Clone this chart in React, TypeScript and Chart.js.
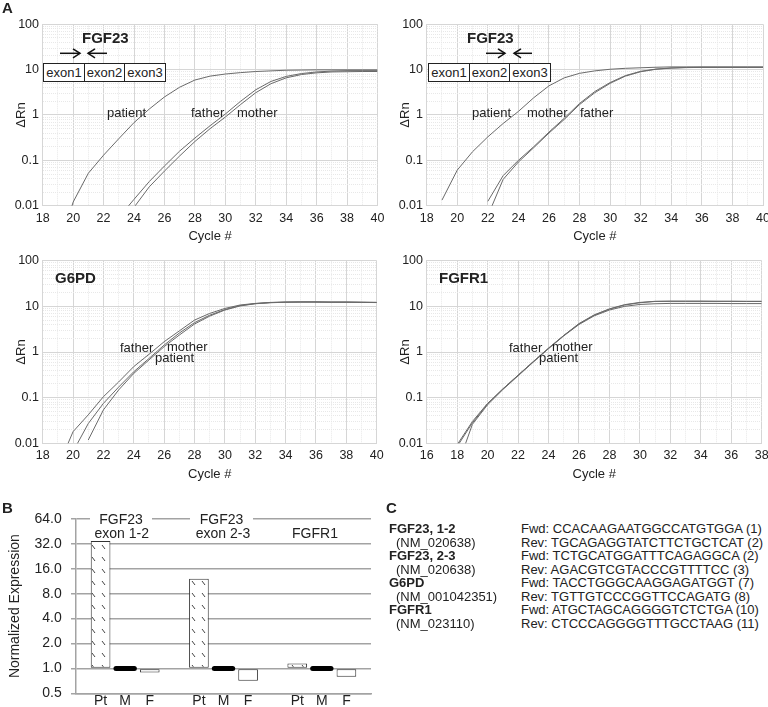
import React, { useEffect, useRef } from 'react';
import { Chart, registerables } from 'chart.js';

Chart.register(...registerables);

const FONT = '"Liberation Sans", Arial, Helvetica, sans-serif';
const TXT = '#222';
const LINE = '#6a6a6a';
const GRID_MAJ = '#d6d6d6';
const GRID_MIN = '#e8e8e8';
const GRID_B = '#a3a3a3';

// ---------- Panel A data (ΔRn per cycle) ----------
const cycles18to40 = [18, 19, 20, 21, 22, 23, 24, 25, 26, 27, 28, 29, 30, 31, 32, 33, 34, 35, 36, 37, 38, 39, 40];
const cycles16to38 = [16, 17, 18, 19, 20, 21, 22, 23, 24, 25, 26, 27, 28, 29, 30, 31, 32, 33, 34, 35, 36, 37, 38];

// FGF23 exon 1-2
const a1Patient = [null, 0.001, 0.012, 0.052, 0.13, 0.3, 0.68, 1.35, 2.5, 4.1, 5.9, 7.2, 8.0, 8.6, 9.1, 9.4, 9.7, 9.8, 9.9, 9.9, 9.9, 9.9, 9.9];
const a1Father = [null, null, null, null, null, 0.0055, 0.0138, 0.034, 0.075, 0.16, 0.31, 0.58, 1.05, 2.0, 3.6, 5.5, 7.1, 8.2, 8.9, 9.3, 9.5, 9.5, 9.5];
const a1Mother = [null, null, null, null, null, 0.002, 0.0092, 0.026, 0.058, 0.125, 0.26, 0.5, 0.9, 1.7, 3.1, 4.9, 6.6, 7.8, 8.5, 8.9, 9.0, 9.1, 9.1];

// FGF23 exon 2-3
const a2Patient = [null, 0.0133, 0.061, 0.155, 0.33, 0.65, 1.2, 2.4, 4.4, 6.6, 8.3, 9.4, 10.2, 10.7, 11.0, 11.3, 11.5, 11.5, 11.5, 11.5, 11.5, 11.5, 11.5];
const a2Mother = [null, null, null, null, 0.0125, 0.046, 0.1, 0.2, 0.42, 0.85, 1.8, 3.3, 5.2, 7.4, 9.2, 10.3, 10.9, 11.2, 11.3, 11.3, 11.3, 11.3, 11.3];
const a2Father = [null, null, null, null, 0.006, 0.038, 0.092, 0.19, 0.4, 0.8, 1.7, 3.1, 5.0, 7.2, 9.0, 10.2, 10.8, 11.1, 11.2, 11.2, 11.2, 11.2, 11.2];

// G6PD
const a3Father = [null, 0.003, 0.018, 0.042, 0.105, 0.22, 0.48, 0.89, 1.68, 2.9, 5.0, 7.0, 9.0, 10.7, 11.6, 12.2, 12.4, 12.5, 12.5, 12.4, 12.4, 12.3, 12.2];
const a3Mother = [null, null, 0.0066, 0.027, 0.075, 0.17, 0.37, 0.72, 1.42, 2.6, 4.4, 6.4, 8.5, 10.4, 11.5, 12.1, 12.4, 12.5, 12.5, 12.4, 12.4, 12.3, 12.2];
const a3Patient = [null, null, null, 0.0118, 0.054, 0.147, 0.34, 0.67, 1.31, 2.35, 4.1, 6.1, 8.3, 10.2, 11.4, 12.0, 12.3, 12.4, 12.4, 12.3, 12.3, 12.2, 12.1];

// FGFR1
const a4Father = [null, null, 0.0093, 0.03, 0.075, 0.155, 0.31, 0.61, 1.2, 2.3, 4.1, 6.4, 8.7, 10.7, 12.0, 12.8, 12.9, 12.9, 12.9, 12.9, 12.9, 12.8, 12.8];
const a4Mother = [null, null, 0.0085, 0.028, 0.073, 0.155, 0.31, 0.62, 1.22, 2.3, 4.2, 6.5, 8.8, 10.9, 12.2, 12.9, 13.0, 13.0, 13.0, 12.9, 12.9, 12.9, 12.9];
const a4Patient = [null, null, 0.003, 0.026, 0.07, 0.15, 0.3, 0.6, 1.18, 2.25, 4.0, 6.2, 8.3, 10.0, 11.0, 11.4, 11.6, 11.6, 11.6, 11.6, 11.5, 11.5, 11.5];

const logTickLabels = [0.01, 0.1, 1, 10, 100];

// ---------- Panel B data ----------
const bGroups = ['FGF23 exon 1-2', 'FGF23 exon 2-3', 'FGFR1'];
const bSamples = ['Pt', 'M', 'F'];
const bPatient = [34.6, 12.1, 1.15];
const bMother = [1.0, 1.0, 1.0];
const bFather = [0.89, 0.71, 0.79];
const bTicks = [0.5, 1, 2, 4, 8, 16, 32, 64];

// ---------- Panel C ----------
const primerGenes = ['FGF23, 1-2', '(NM_020638)', 'FGF23, 2-3', '(NM_020638)', 'G6PD', '(NM_001042351)', 'FGFR1', '(NM_023110)'];
const primerSeqs = [
  'Fwd: CCACAAGAATGGCCATGTGGA (1)',
  'Rev: TGCAGAGGTATCTTCTGCTCAT (2)',
  'Fwd: TCTGCATGGATTTCAGAGGCA (2)',
  'Rev: AGACGTCGTACCCGTTTTCC (3)',
  'Fwd: TACCTGGGCAAGGAGATGGT (7)',
  'Rev: TGTTGTCCCGGTTCCAGATG (8)',
  'Fwd: ATGCTAGCAGGGGTCTCTGA (10)',
  'Rev: CTCCCAGGGGTTTGCCTAAG (11)',
];

type Plot = { L: number; R: number; T: number; B: number };

function logMinorTicks(minExp: number, maxExp: number) {
  const out: number[] = [];
  for (let e = minExp; e < maxExp; e++) {
    for (let m = 1; m <= 9; m++) out.push(parseFloat((m * Math.pow(10, e)).toPrecision(3)));
  }
  out.push(parseFloat(Math.pow(10, maxExp).toPrecision(3)));
  return out;
}

function ampConfig(cycles: number[], series: (number | null)[][], xMin: number, xMax: number, p: Plot, W: number, H: number): any {
  const AXH = 40;
  const isMajorX = (v: number) => Math.abs((v - xMin) % 2) < 1e-6;
  const isMajorY = (v: number) => logTickLabels.includes(v);
  return {
    type: 'line',
    data: {
      datasets: series.map((s) => ({
        data: cycles.map((c, i) => ({ x: c, y: s[i] })),
        borderColor: LINE,
        borderWidth: 1,
        pointRadius: 0,
        tension: 0,
        fill: false,
      })),
    },
    options: {
      animation: false,
      responsive: false,
      events: [],
      layout: { padding: { left: 0, top: p.T, right: W - p.R, bottom: H - p.B - AXH } },
      plugins: { legend: { display: false }, tooltip: { enabled: false } },
      scales: {
        x: {
          type: 'linear',
          min: xMin,
          max: xMax,
          afterBuildTicks: (s: any) => {
            const t = [];
            for (let v = xMin; v <= xMax + 1e-9; v += 1) t.push({ value: v });
            s.ticks = t;
          },
          afterFit: (s: any) => {
            s.height = AXH;
            s.paddingLeft = 0;
            s.paddingRight = 0;
          },
          ticks: {
            autoSkip: false,
            maxRotation: 0,
            padding: 5.1,
            color: TXT,
            font: { family: FONT, size: 12.5 },
            callback: (v: any) => (isMajorX(Number(v)) ? String(v) : ''),
          },
          grid: {
            drawTicks: false,
            lineWidth: 1,
            color: (ctx: any) => (ctx.tick && !isMajorX(ctx.tick.value) ? GRID_MIN : GRID_MAJ),
          },
          border: {
            color: GRID_MAJ,
            dash: (ctx: any) => (ctx.tick && !isMajorX(ctx.tick.value) ? [1, 1] : []),
          },
          title: { display: true, text: 'Cycle #', color: TXT, font: { family: FONT, size: 13 }, padding: { top: 0, bottom: 1.2 } },
        },
        y: {
          type: 'logarithmic',
          min: 0.01,
          max: 100,
          afterBuildTicks: (s: any) => {
            s.ticks = logMinorTicks(-2, 2).map((v) => ({ value: v, major: isMajorY(v) }));
          },
          afterFit: (s: any) => {
            s.width = p.L;
            s.paddingTop = 0;
            s.paddingBottom = 0;
          },
          ticks: {
            autoSkip: false,
            padding: 3.7,
            color: TXT,
            font: { family: FONT, size: 12.5 },
            callback: (v: any) => (isMajorY(Number(v)) ? String(v) : ''),
          },
          grid: {
            drawTicks: false,
            lineWidth: 1,
            color: (ctx: any) => (ctx.tick && !isMajorY(ctx.tick.value) ? GRID_MIN : GRID_MAJ),
          },
          border: {
            color: GRID_MAJ,
            dash: (ctx: any) => (ctx.tick && !isMajorY(ctx.tick.value) ? [1, 1] : []),
          },
          title: { display: true, text: 'ΔRn', color: TXT, font: { family: FONT, size: 13 }, padding: { top: 13.7, bottom: 0 } },
        },
      },
    },
  };
}

function makeHatch(): any {
  const c = document.createElement('canvas');
  c.width = 10;
  c.height = 12;
  const g = c.getContext('2d') as CanvasRenderingContext2D;
  g.fillStyle = '#ffffff';
  g.fillRect(0, 0, 10, 12);
  g.strokeStyle = '#444';
  g.lineWidth = 1;
  g.beginPath();
  g.moveTo(2, 3);
  g.lineTo(5, 7);
  g.stroke();
  return g.createPattern(c, 'repeat');
}

function barConfig(W: number, H: number, p: Plot): any {
  const n = bGroups.length * 4 + 1;
  const labels: string[] = [];
  for (let i = 0; i < n; i++) labels.push(i % 4 === 0 ? '' : bSamples[(i % 4) - 1]);
  const place = (vals: number[], k: number) => {
    const arr: (number | null)[] = new Array(n).fill(null);
    vals.forEach((v, g) => (arr[1 + g * 4 + k] = v));
    return arr;
  };
  const AXH = H - p.B;
  return {
    type: 'bar',
    data: {
      labels,
      datasets: [
        { data: place(bPatient, 0), backgroundColor: makeHatch(), borderColor: '#333', borderWidth: 1, borderSkipped: false, base: 1, grouped: false, barPercentage: 0.8, categoryPercentage: 1 },
        { data: place(bMother, 1), backgroundColor: '#000', borderWidth: 0, borderRadius: 2.5, borderSkipped: false, base: 1, minBarLength: 5, grouped: false, barPercentage: 0.95, categoryPercentage: 1 },
        { data: place(bFather, 2), backgroundColor: '#fff', borderColor: '#333', borderWidth: 1, borderSkipped: false, base: 1, grouped: false, barPercentage: 0.8, categoryPercentage: 1 },
      ],
    },
    options: {
      animation: false,
      responsive: false,
      events: [],
      layout: { padding: { left: 0, top: p.T, right: W - p.R, bottom: 0 } },
      plugins: { legend: { display: false }, tooltip: { enabled: false } },
      scales: {
        x: {
          type: 'category',
          offset: false,
          grid: { display: false, drawTicks: false },
          border: { display: true, color: GRID_B, width: 1.5 },
          afterFit: (s: any) => {
            s.height = AXH;
            s.paddingLeft = 0;
            s.paddingRight = 0;
          },
          ticks: { autoSkip: false, maxRotation: 0, padding: -1, color: TXT, font: { family: FONT, size: 14 } },
        },
        y: {
          type: 'logarithmic',
          min: 0.5,
          max: 64,
          afterBuildTicks: (s: any) => {
            s.ticks = bTicks.map((v) => ({ value: v }));
          },
          afterFit: (s: any) => {
            s.width = p.L;
            s.paddingTop = 0;
            s.paddingBottom = 0;
          },
          ticks: { autoSkip: false, padding: 9.3, color: TXT, font: { family: FONT, size: 14 }, callback: (v: any) => Number(v).toFixed(1) },
          grid: { color: GRID_B, lineWidth: 1.5, drawTicks: true, tickLength: 5 },
          border: { color: GRID_B, width: 1.5 },
          title: { display: true, text: 'Normalized Expression', color: TXT, font: { family: FONT, size: 14 }, padding: { top: 6.6, bottom: 0 } },
        },
      },
    },
  };
}

function ChartBox({ left, top, width, height, make }: { left: number; top: number; width: number; height: number; make: () => any }) {
  const ref = useRef<HTMLCanvasElement>(null);
  useEffect(() => {
    const chart = new Chart(ref.current as HTMLCanvasElement, make());
    return () => chart.destroy();
  }, []);
  return <canvas ref={ref} width={width} height={height} style={{ position: 'absolute', left, top, width, height }} />;
}

function Txt({ x, y, children, size = 13, bold = false, center = false, bg, w }: any) {
  return (
    <div
      style={{
        position: 'absolute',
        left: x,
        top: y,
        transform: `translate(${center ? '-50%' : '0'}, -50%)`,
        fontSize: size,
        fontWeight: bold ? 700 : 400,
        lineHeight: 1,
        whiteSpace: 'nowrap',
        background: bg,
        width: w,
        textAlign: center ? 'center' : 'left',
        color: TXT,
      }}
    >
      {children}
    </div>
  );
}

function ExonBox({ x, y }: { x: number; y: number }) {
  const cells = ['exon1', 'exon2', 'exon3'];
  return (
    <div style={{ position: 'absolute', left: x, top: y, display: 'flex', border: '1.5px solid #222', background: '#fff', height: 17, boxSizing: 'content-box' }}>
      {cells.map((c, i) => (
        <div key={c} style={{ width: 39.5, borderLeft: i ? '1.5px solid #222' : 'none', fontSize: 13, lineHeight: '17px', textAlign: 'center', color: TXT }}>
          {c}
        </div>
      ))}
    </div>
  );
}

function Arrows({ rx1, rx2, lx1, lx2, y }: any) {
  return (
    <svg style={{ position: 'absolute', left: 0, top: 0, overflow: 'visible' }} width={1} height={1}>
      <g stroke="#111" strokeWidth={1.5} fill="none">
        <line x1={rx1} y1={y} x2={rx2} y2={y} />
        <polyline points={`${rx2 - 7},${y - 4.5} ${rx2},${y} ${rx2 - 7},${y + 4.5}`} />
        <line x1={lx1} y1={y} x2={lx2} y2={y} />
        <polyline points={`${lx2 + 7},${y - 4.5} ${lx2},${y} ${lx2 + 7},${y + 4.5}`} />
      </g>
    </svg>
  );
}

export default function App() {
  const W = 384;
  const H = 246;
  const pTop: Plot = { L: 42.7, R: 377.5, T: 24.3, B: 205.7 };
  const pTop2: Plot = { L: 42.7, R: 379, T: 24.3, B: 205.7 };
  const pBot: Plot = { L: 42.7, R: 376.7, T: 20.7, B: 203.3 };
  const pBot2: Plot = { L: 42.7, R: 377.7, T: 20.7, B: 203.3 };
  const pBar: Plot = { L: 76, R: 371, T: 49, B: 223.3 };
  const rowY = (k: number) => 528.3 + k * 13.49;

  return (
    <div style={{ position: 'absolute', left: 0, top: 0, width: 768, height: 707, overflow: 'hidden', background: '#fff', fontFamily: FONT }}>
      <ChartBox left={0} top={0} width={W} height={H} make={() => ampConfig(cycles18to40, [a1Patient, a1Father, a1Mother], 18, 40, pTop, W, H)} />
      <ChartBox left={384} top={0} width={W} height={H} make={() => ampConfig(cycles18to40, [a2Patient, a2Mother, a2Father], 18, 40, pTop2, W, H)} />
      <ChartBox left={0} top={240} width={W} height={H} make={() => ampConfig(cycles18to40, [a3Father, a3Mother, a3Patient], 18, 40, pBot, W, H)} />
      <ChartBox left={384} top={240} width={W} height={H} make={() => ampConfig(cycles16to38, [a4Father, a4Mother, a4Patient], 16, 38, pBot2, W, H)} />
      <ChartBox left={0} top={470} width={384} height={237} make={() => barConfig(384, 237, pBar)} />

      {/* panel letters */}
      <Txt x={2} y={7} size={15} bold>A</Txt>
      <Txt x={2} y={507} size={15} bold>B</Txt>
      <Txt x={386} y={507} size={15} bold>C</Txt>

      {/* top-left annotations */}
      <Txt x={82} y={36.7} size={15} bold>FGF23</Txt>
      <Arrows rx1={60} rx2={80} lx1={107} lx2={88} y={53.3} />
      <ExonBox x={43.3} y={62.7} />
      <Txt x={107} y={111.7}>patient</Txt>
      <Txt x={191} y={111.7}>father</Txt>
      <Txt x={237} y={111.7}>mother</Txt>

      {/* top-right annotations */}
      <Txt x={467} y={36.7} size={15} bold>FGF23</Txt>
      <Arrows rx1={486} rx2={505} lx1={532} lx2={514} y={53.3} />
      <ExonBox x={428.3} y={63.3} />
      <Txt x={472} y={111.7}>patient</Txt>
      <Txt x={527} y={111.7}>mother</Txt>
      <Txt x={580} y={111.7}>father</Txt>

      {/* bottom-left annotations */}
      <Txt x={55} y={277.3} size={15} bold>G6PD</Txt>
      <Txt x={120} y={347.3}>father</Txt>
      <Txt x={167} y={346}>mother</Txt>
      <Txt x={155} y={357.3}>patient</Txt>

      {/* bottom-right annotations */}
      <Txt x={439} y={277.3} size={15} bold>FGFR1</Txt>
      <Txt x={509} y={347.3}>father</Txt>
      <Txt x={552} y={346}>mother</Txt>
      <Txt x={539} y={357.3}>patient</Txt>

      {/* panel B group headers */}
      <Txt x={90} y={519} size={14} bg="#fff" w={62}>
        <div style={{ textAlign: 'center' }}>FGF23</div>
      </Txt>
      <Txt x={121.7} y={533} size={14} center>exon 1-2</Txt>
      <Txt x={190} y={519} size={14} bg="#fff" w={63}>
        <div style={{ textAlign: 'center' }}>FGF23</div>
      </Txt>
      <Txt x={223} y={533} size={14} center>exon 2-3</Txt>
      <Txt x={315} y={533} size={14} center>FGFR1</Txt>

      {/* panel C */}
      {primerGenes.map((g, k) => (
        <Txt key={'g' + k} x={k % 2 === 0 ? 389 : 396} y={rowY(k)} size={13} bold={k % 2 === 0}>
          {g}
        </Txt>
      ))}
      {primerSeqs.map((s, k) => (
        <Txt key={'s' + k} x={521} y={rowY(k)} size={13}>
          {s}
        </Txt>
      ))}
    </div>
  );
}
